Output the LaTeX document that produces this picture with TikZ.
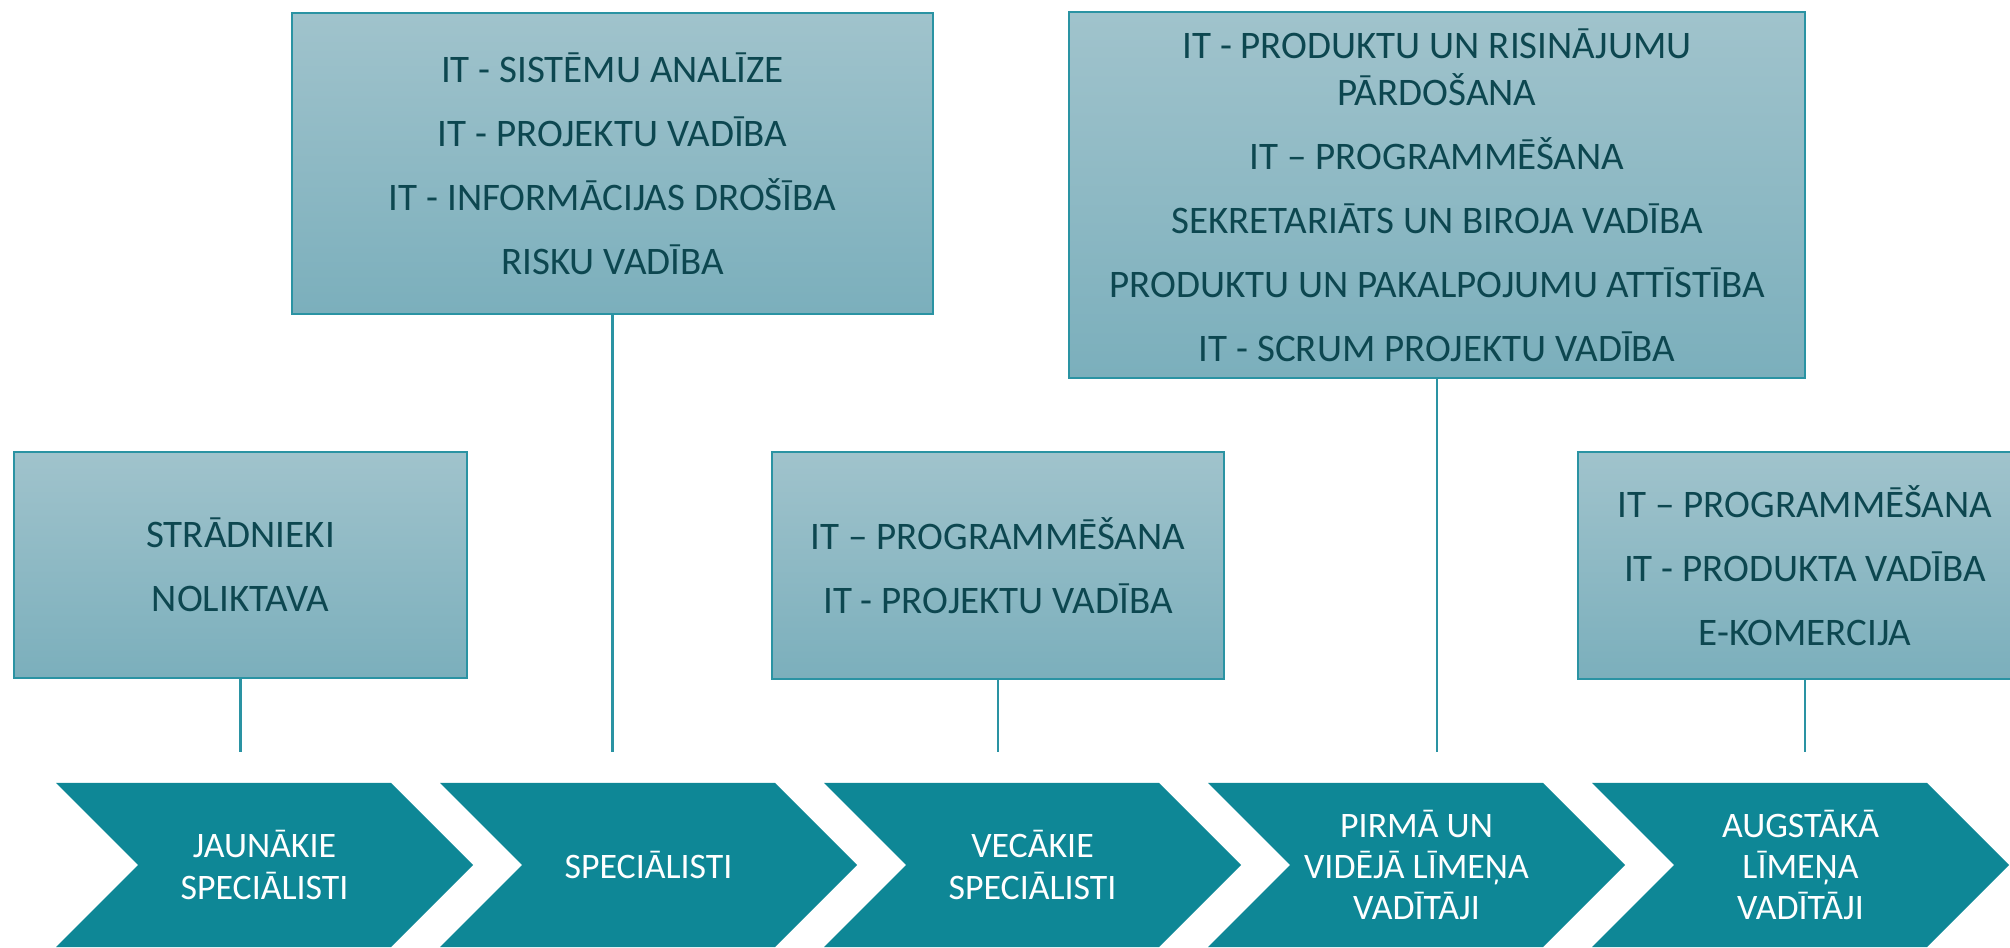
\documentclass[tikz,border=0pt]{standalone}
\usepackage{fontspec}
\setmainfont{Carlito}
\usetikzlibrary{positioning,shapes.symbols}
\definecolor{boxtop}{HTML}{A0C3CC}
\definecolor{boxbot}{HTML}{7BAFBC}
\definecolor{boxline}{HTML}{2A93A3}
\definecolor{boxtext}{HTML}{0D4750}
\definecolor{stepteal}{HTML}{0E8796}

\begin{document}
\begin{tikzpicture}[node distance=3.84cm, on grid,
	level/.style={shape=signal, signal from=west, signal to=east, fill=stepteal, text=white, minimum width=4.17cm, minimum height=1.64cm, inner sep=0pt, align=center, font=\fontsize{10.2pt}{11.7pt}\selectfont},
	role/.style={draw=boxline, line width=0.6pt, top color=boxtop, bottom color=boxbot, text=boxtext, align=center, inner sep=0pt, font=\fontsize{11.1pt}{13.4pt}\selectfont},
	stem/.style={draw=boxline, line width=0.6pt}]
	\useasboundingbox (0,0) rectangle (20.1,9.47);
	
	\node[level] (L1) at (2.645,0.82) {JAUNĀKIE\\SPECIĀLISTI};
	\node[level] (L2) [right=of L1] {SPECIĀLISTI};
	\node[level] (L3) [right=of L2] {VECĀKIE\\SPECIĀLISTI};
	\node[level] (L4) [right=of L3] {PIRMĀ UN\\VIDĒJĀ LĪMEŅA\\VADĪTĀJI};
	\node[level] (L5) [right=of L4] {AUGSTĀKĀ\\LĪMEŅA\\VADĪTĀJI};
	
	\node[role, minimum width=4.53cm, minimum height=2.26cm] (R1) at (2.405,3.82) {STRĀDNIEKI\\[4.8pt]NOLIKTAVA};
	\node[role, minimum width=6.41cm, minimum height=3.01cm] (R2) at (6.125,7.835) {IT - SISTĒMU ANALĪZE\\[4.8pt]IT - PROJEKTU VADĪBA\\[4.8pt]IT - INFORMĀCIJAS DROŠĪBA\\[4.8pt]RISKU VADĪBA};
	\node[role, minimum width=4.52cm, minimum height=2.27cm] (R3) at (9.98,3.815) {IT – PROGRAMMĒŠANA\\[4.8pt]IT - PROJEKTU VADĪBA};
	\node[role, minimum width=7.36cm, minimum height=3.66cm] (R4) at (14.37,7.52) {IT - PRODUKTU UN RISINĀJUMU\\PĀRDOŠANA\\[4.8pt]IT – PROGRAMMĒŠANA\\[4.8pt]SEKRETARIĀTS UN BIROJA VADĪBA\\[4.8pt]PRODUKTU UN PAKALPOJUMU ATTĪSTĪBA\\[4.8pt]IT - SCRUM PROJEKTU VADĪBA};
	\node[role, minimum width=4.54cm, minimum height=2.27cm] (R5) at (18.05,3.815) {IT – PROGRAMMĒŠANA\\[4.8pt]IT - PRODUKTA VADĪBA\\[4.8pt]E-KOMERCIJA};
	
	\coordinate (T1) at (2.405,1.95);
	\coordinate (T2) at (6.125,1.95);
	\coordinate (T3) at (9.98,1.95);
	\coordinate (T4) at (14.37,1.95);
	\coordinate (T5) at (18.05,1.95);
	
	\draw[stem] (R1.south) -- (T1);
	\draw[stem] (R2.south) -- (T2);
	\draw[stem] (R3.south) -- (T3);
	\draw[stem] (R4.south) -- (T4);
	\draw[stem] (R5.south) -- (T5);
	
\end{tikzpicture}
\end{document}
